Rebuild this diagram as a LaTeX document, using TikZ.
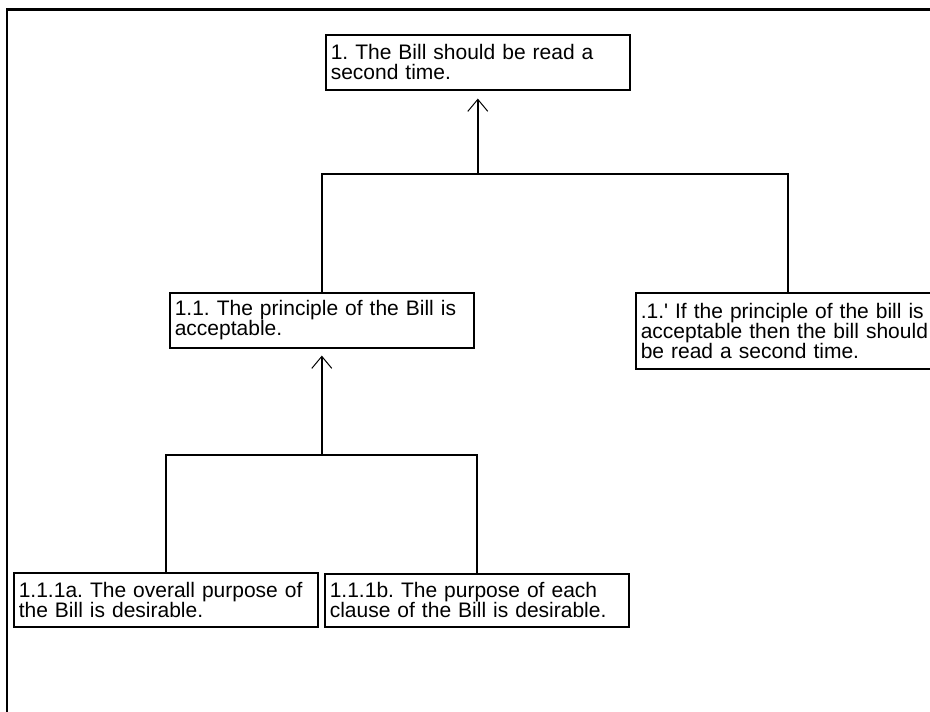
\documentclass[tikz,border=0pt]{standalone}
\usepackage{fontspec}
\setmainfont{Liberation Sans}[Ligatures=TeXOff]
\usetikzlibrary{arrows.meta}

\tikzset{
    claim/.style={draw, line width=1.6pt, anchor=north west, align=left,
        inner xsep=5pt, inner ysep=3pt, minimum height=55pt,
        text width=294pt, font=\fontsize{21}{20}\selectfont\frenchspacing},
    link/.style={line width=1.6pt},
    support/.style={link, -{Straight Barb[length=12pt, width=20pt, line width=1pt]}}
}

\begin{document}
\begin{tikzpicture}[x=1pt, y=-1pt]
    \useasboundingbox (0,0) rectangle (930,712);
    \clip (0,0) rectangle (930,712);

    % outer frame (only top and left edges are in view)
    \draw[line width=2.4pt] (7,720) -- (7,9.5) -- (940,9.5);

    % claims
    \node[claim] (main) at (325,34) {1. The Bill should be read a\\second time.};
    \node[claim] (principle) at (169,292) {1.1. The principle of the Bill is\\acceptable.};
    \node[claim, minimum height=76pt] (warrant) at (635,292) {.1.' If the principle of the bill is\\acceptable then the bill should\\be read a second time.};
    \node[claim, minimum height=54pt] (purpose) at (13,572) {1.1.1a. The overall purpose of\\the Bill is desirable.};
    \node[claim, minimum height=53pt] (clauses) at (324,573) {1.1.1b. The purpose of each\\clause of the Bill is desirable.};

    % joints
    \coordinate (join1) at (main.south |- 0,174);
    \coordinate (join2) at (principle.south |- 0,455);

    \draw[link] (principle.north) |- (join1) -| (warrant.north);
    \draw[support, shorten >=8pt] (join1) -- (main.south);

    \draw[link] (purpose.north) |- (join2) -| (clauses.north);
    \draw[support, shorten >=7pt] (join2) -- (principle.south);
\end{tikzpicture}
\end{document}
